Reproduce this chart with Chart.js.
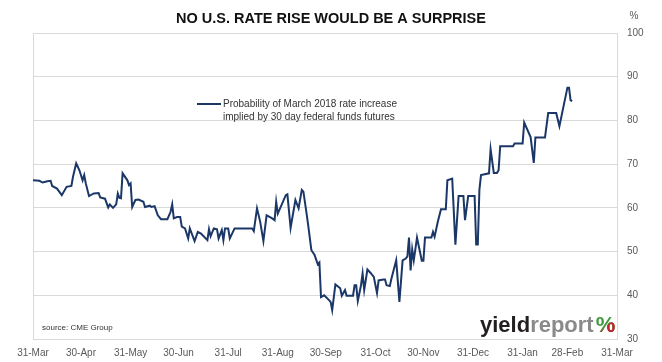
<!DOCTYPE html>
<html>
<head>
<meta charset="utf-8">
<title>No U.S. rate rise would be a surprise</title>
<style>
  html, body { margin: 0; padding: 0; background: #fff; }
</style>
</head>
<body>
<canvas id="chart" width="662" height="362"></canvas>
<script src="https://cdn.jsdelivr.net/npm/chart.js"></script>
<script>
// x = days after 31-Mar-2017, y = probability in %
const days = [0, 4, 6, 9, 11, 12, 15, 18, 21, 24, 25, 27, 29, 31, 32, 33, 35, 38, 41, 42,
  45, 47, 48, 50, 52, 53, 54, 55, 56, 59, 60, 61, 62, 64, 66, 69, 70, 73, 74, 76,
  78, 80, 84, 86, 87, 88, 90, 92, 93, 95, 97, 98, 101, 103, 105, 109, 110, 111, 113, 115,
  116, 118, 119, 120, 122, 123, 126, 137, 138, 140, 142, 144, 146, 149, 151, 152, 153, 158, 159, 161,
  164, 166, 168, 169, 171, 172, 174, 176, 178, 179, 180, 182, 185, 186, 187, 189, 192, 193, 195, 196,
  200, 201, 202, 203, 205, 206, 207, 209, 211, 213, 215, 216, 219, 220, 221, 223, 224, 227, 229, 231,
  233, 234, 235, 236, 237, 238, 240, 243, 244, 245, 249, 250, 251, 253, 255, 258, 259, 262, 264, 266,
  269, 270, 272, 276, 277, 278, 279, 280, 285, 286, 288, 290, 291, 292, 300, 301, 306, 307, 311, 313,
  314, 320, 322, 327, 329, 334, 335, 336, 337];
const probability = [66.3, 66.2, 65.8, 66.1, 66.2, 65.0, 64.4, 62.9, 64.8, 65.0, 67.1, 70.2, 68.6, 66.3, 67.5, 65.6, 62.7, 63.3, 63.4, 62.4,
  62.1, 60.1, 60.8, 60.0, 60.8, 63.3, 62.3, 62.2, 67.9, 66.3, 65.2, 65.6, 60.2, 61.8, 61.9, 61.4, 60.2, 60.5, 60.2, 60.4,
  58.3, 57.4, 57.4, 59.1, 60.8, 57.6, 57.9, 57.9, 55.7, 55.3, 53.0, 55.3, 52.4, 54.5, 54.1, 52.6, 55.1, 53.5, 55.3, 55.1,
  53.0, 54.9, 52.6, 55.3, 55.3, 53.0, 55.3, 55.3, 54.7, 59.9, 56.8, 52.4, 58.3, 57.7, 57.2, 61.4, 58.7, 62.9, 63.1, 55.4,
  61.8, 59.9, 64.1, 63.7, 58.7, 56.0, 50.3, 49.2, 47.1, 47.5, 39.6, 40.0, 38.9, 38.5, 36.6, 42.5, 41.6, 39.9, 41.2, 39.9,
  39.9, 42.3, 42.3, 38.7, 42.3, 45.0, 41.2, 45.9, 45.1, 44.2, 40.5, 43.4, 43.6, 43.6, 42.3, 42.1, 43.8, 48.0, 38.5, 48.0,
  48.4, 48.9, 53.2, 45.7, 50.5, 48.0, 53.2, 47.9, 47.9, 53.2, 53.2, 54.5, 53.4, 56.8, 59.7, 59.7, 66.3, 66.7, 51.6, 62.7,
  62.7, 57.2, 62.7, 62.7, 51.6, 51.6, 64.1, 67.5, 67.9, 73.4, 68.0, 68.0, 68.6, 74.1, 74.1, 74.7, 74.7, 79.5, 76.2, 70.3,
  76.1, 76.1, 81.7, 81.7, 78.7, 87.5, 87.5, 84.6, 84.4];

const monthDays = [0, 30, 61, 91, 122, 153, 183, 214, 244, 275, 306, 334, 365];
const monthLabels = ['31-Mar', '30-Apr', '31-May', '30-Jun', '31-Jul', '31-Aug', '30-Sep',
  '31-Oct', '30-Nov', '31-Dec', '31-Jan', '28-Feb', '31-Mar'];
const seriesLabel = ['Probability of March 2018 rate increase', 'implied by 30 day federal funds futures'];
const titleText = 'NO U.S. RATE RISE WOULD BE A SURPRISE';
const sourceText = 'source: CME Group';

const FONT = '"Liberation Sans", Arial, sans-serif';
const lineColor = '#1b3768';
const gridColor = '#d9d9d9';
const tickColor = '#595959';

// frame, title, unit, legend, source and logo
const decor = {
  id: 'decor',
  beforeDatasetsDraw(chart) {
    const { ctx, chartArea: a } = chart;
    ctx.save();
    ctx.strokeStyle = gridColor;
    ctx.lineWidth = 1;
    ctx.strokeRect(a.left + 0.5, a.top + 0.5, a.right - a.left, a.bottom - a.top);
    ctx.restore();
  },
  afterDraw(chart) {
    const { ctx } = chart;
    ctx.save();
    ctx.textBaseline = 'middle';

    ctx.fillStyle = '#111';
    ctx.font = 'bold 14.5px ' + FONT;
    ctx.textAlign = 'center';
    ctx.fillText(titleText, 331, 19);

    ctx.fillStyle = tickColor;
    ctx.font = '10px ' + FONT;
    ctx.fillText('%', 634, 16);

    // legend
    ctx.strokeStyle = lineColor;
    ctx.lineWidth = 2;
    ctx.beginPath();
    ctx.moveTo(197, 104);
    ctx.lineTo(221, 104);
    ctx.stroke();
    ctx.textAlign = 'left';
    ctx.fillStyle = '#333';
    ctx.font = '10px ' + FONT;
    ctx.fillText(seriesLabel[0], 223, 104);
    ctx.fillText(seriesLabel[1], 223, 117);

    ctx.font = '8px ' + FONT;
    ctx.fillText(sourceText, 42, 328);

    // logo
    ctx.textBaseline = 'alphabetic';
    ctx.font = 'bold 22px ' + FONT;
    let x = 480;
    ctx.fillStyle = '#231f20';
    ctx.fillText('yield', x, 332);
    x += ctx.measureText('yield').width;
    ctx.fillStyle = '#8a8a8a';
    ctx.fillText('report', x, 332);
    x += ctx.measureText('report').width + 2;
    const w = ctx.measureText('%').width;
    ctx.fillStyle = '#3f9a3a';
    ctx.fillText('%', x, 332);
    ctx.save();
    ctx.beginPath();
    ctx.moveTo(x + w, 318);
    ctx.lineTo(x + w, 336);
    ctx.lineTo(x, 336);
    ctx.closePath();
    ctx.clip();
    ctx.fillStyle = '#c8202f';
    ctx.fillText('%', x, 332);
    ctx.restore();
    ctx.restore();
  }
};

new Chart(document.getElementById('chart'), {
  type: 'line',
  data: {
    datasets: [{
      label: seriesLabel.join(' '),
      data: days.map((d, i) => ({ x: d, y: probability[i] })),
      borderColor: lineColor,
      backgroundColor: lineColor,
      borderWidth: 2,
      pointRadius: 0,
      tension: 0
    }]
  },
  options: {
    responsive: false,
    animation: false,
    layout: { padding: { left: 33, top: 33, right: 0, bottom: 0 } },
    plugins: {
      legend: { display: false },
      title: { display: false },
      tooltip: { enabled: false }
    },
    scales: {
      x: {
        type: 'linear',
        min: 0,
        max: 365,
        afterBuildTicks: s => { s.ticks = monthDays.map(v => ({ value: v })); },
        afterFit: s => { s.height = 23; s.paddingLeft = 0; s.paddingRight = 0; },
        ticks: {
          autoSkip: false,
          maxRotation: 0,
          color: tickColor,
          font: { family: FONT, size: 10 },
          padding: 8,
          callback: v => monthLabels[monthDays.indexOf(v)]
        },
        grid: { display: false, drawTicks: false },
        border: { display: false }
      },
      y: {
        position: 'right',
        min: 30,
        max: 100,
        afterFit: s => { s.width = 45; s.paddingTop = 0; s.paddingBottom = 0; },
        ticks: {
          stepSize: 10,
          color: tickColor,
          font: { family: FONT, size: 10 },
          padding: 10
        },
        grid: { color: gridColor, drawTicks: false },
        border: { display: false }
      }
    }
  },
  plugins: [decor]
});
</script>
</body>
</html>
